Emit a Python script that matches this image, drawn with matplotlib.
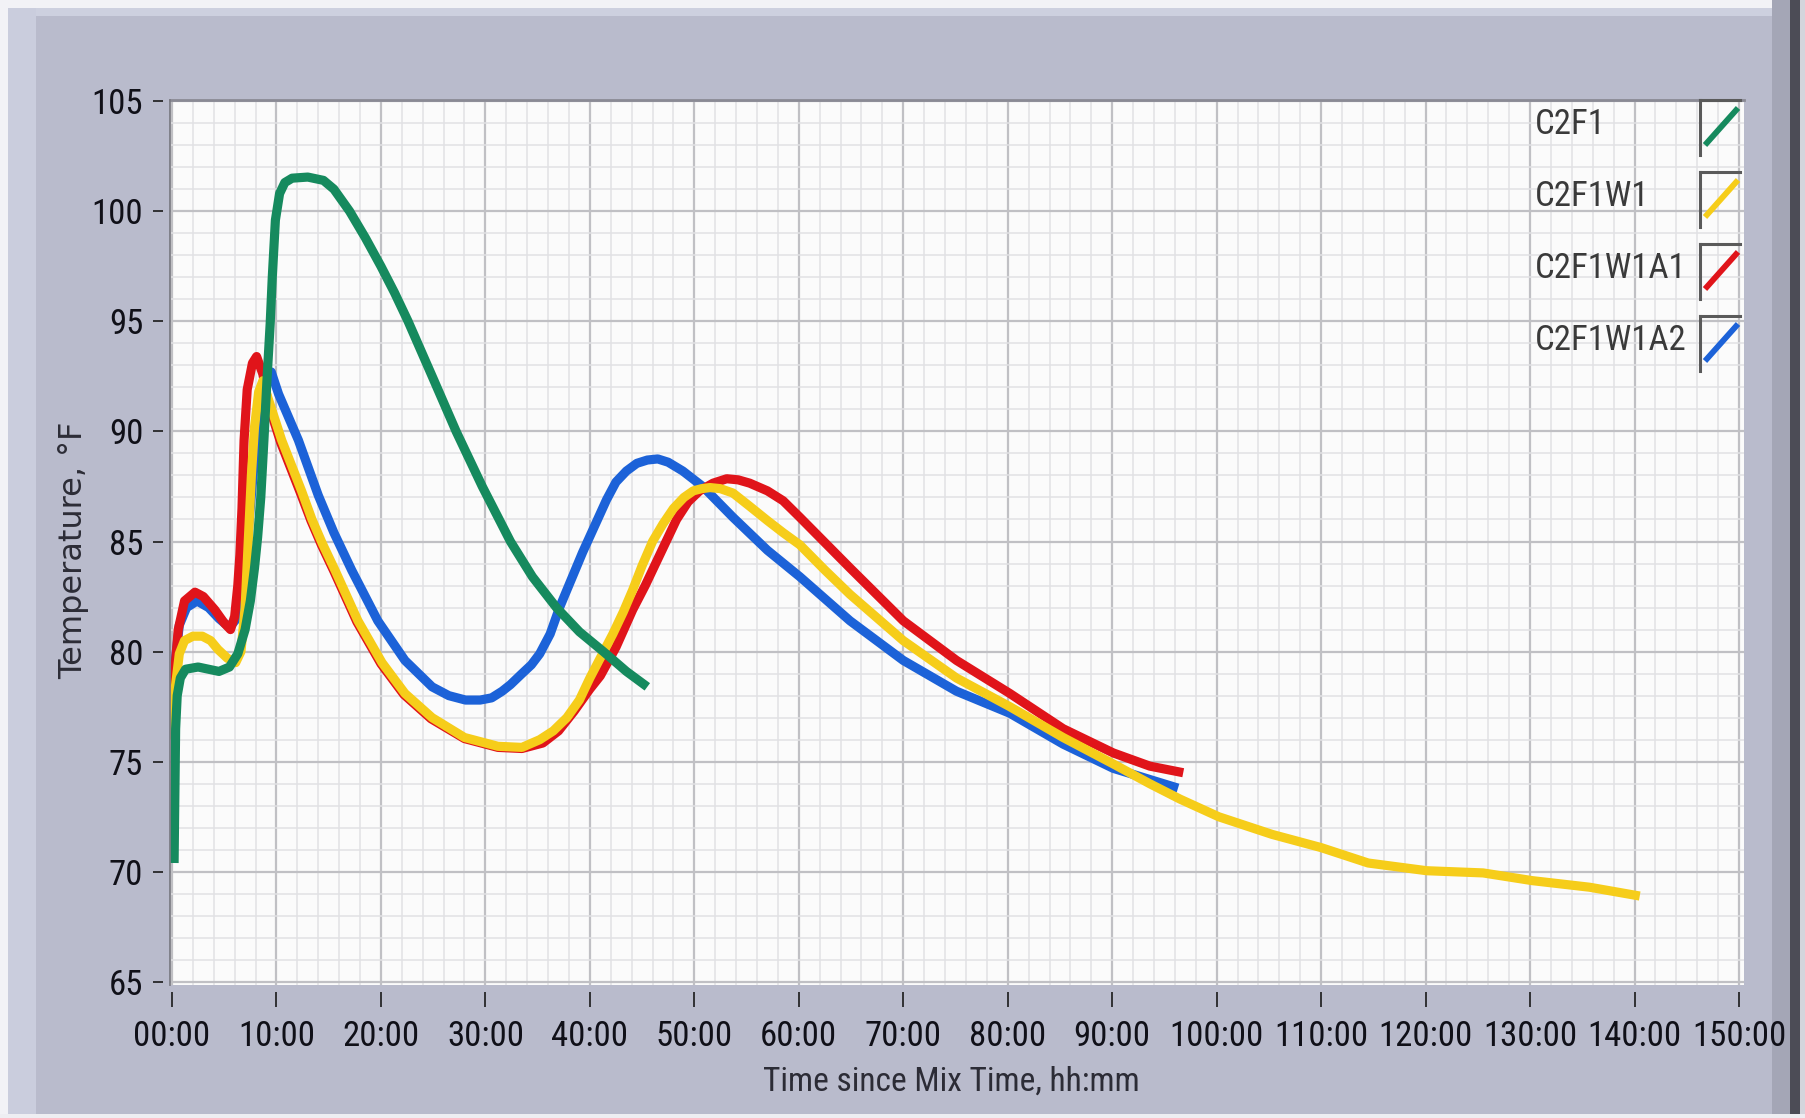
import matplotlib
matplotlib.use("Agg")
import matplotlib.pyplot as plt
from matplotlib import font_manager
from matplotlib.lines import Line2D
from matplotlib.patches import Rectangle
from matplotlib.ticker import MultipleLocator, FuncFormatter

# hours since mix time / temperature (F) for each batch
c2f1_h = [0.2, 0.25, 0.3, 0.35, 0.5, 0.8, 1.3, 2.5, 3.5, 4.5, 5.5, 6.3, 7.0, 7.5, 7.9, 8.2,
          8.5, 8.8, 9.1, 9.4, 9.6, 9.9, 10.3, 10.8, 11.5, 13.0, 14.5, 15.5, 17.0, 18.5,
          20.0, 21.3, 22.6, 23.8, 25.0, 27.2, 29.7, 32.4, 34.5, 36.8, 39.0, 41.3, 43.5,
          45.5]
c2f1_t = [70.4, 72.5, 74.5, 76.5, 78.0, 78.8, 79.2, 79.3, 79.2, 79.1, 79.3, 79.9, 81.0,
          82.3, 83.8, 85.2, 87.0, 89.6, 92.4, 94.9, 97.0, 99.6, 100.8, 101.3, 101.5,
          101.55, 101.4, 101.0, 100.0, 98.8, 97.5, 96.3, 95.0, 93.7, 92.4, 90.0, 87.5,
          85.0, 83.4, 82.0, 80.9, 80.0, 79.1, 78.4]

c2f1w1_h = [0.1, 0.3, 0.7, 1.2, 2.0, 2.9, 3.7, 4.4, 5.3, 6.1, 6.6, 7.0, 7.3, 7.6, 7.9,
            8.3, 8.7, 9.2, 10.5, 12.4, 13.4, 14.4, 15.6, 17.8, 20.1, 22.3, 24.9, 28.0,
            31.2, 33.5, 35.2, 36.5, 37.8, 39.0, 40.0, 41.1, 42.2, 43.2, 44.1, 45.0,
            46.0, 47.0, 48.0, 49.0, 49.9, 50.7, 51.5, 52.5, 53.7, 55.3, 57.0, 58.5,
            60.1, 62.5, 64.9, 70.0, 75.1, 80.2, 85.3, 90.1, 93.6, 96.5, 100.2, 105.3,
            110.0, 114.5, 120.1, 125.5, 130.2, 135.7, 140.5]
c2f1w1_t = [76.0, 78.3, 79.9, 80.5, 80.7, 80.7, 80.5, 80.1, 79.7, 79.5, 80.0, 82.0, 85.0,
            88.0, 90.2, 91.8, 92.3, 91.5, 89.6, 87.3, 86.0, 84.9, 83.7, 81.4, 79.5, 78.1,
            77.0, 76.1, 75.7, 75.65, 76.0, 76.4, 77.0, 77.8, 78.8, 79.8, 80.8, 81.8,
            82.8, 83.9, 85.0, 85.8, 86.5, 87.0, 87.3, 87.4, 87.45, 87.4, 87.2, 86.6,
            85.95, 85.4, 84.85, 83.7, 82.6, 80.5, 78.8, 77.5, 76.1, 74.9, 74.0, 73.3,
            72.5, 71.7, 71.1, 70.4, 70.05, 69.95, 69.6, 69.3, 68.9]

c2f1w1a1_h = [0.1, 0.3, 0.6, 1.2, 2.2, 3.0, 4.1, 5.0, 5.6, 6.0, 6.3, 6.5, 6.7, 6.9, 7.2,
              7.7, 8.1, 8.7, 9.2, 10.4, 12.3, 13.3, 14.3, 15.5, 17.7, 20.0, 22.2, 24.8,
              28.0, 31.2, 33.5, 35.5, 37.0, 38.5, 40.0, 41.0, 42.5, 44.1, 45.3, 46.4,
              47.4, 48.3, 49.4, 50.5, 51.8, 53.1, 54.2, 55.3, 57.0, 58.5, 60.1, 64.9,
              70.0, 75.1, 80.2, 85.3, 90.1, 93.6, 96.8]
c2f1w1a1_t = [77.0, 79.3, 81.0, 82.3, 82.7, 82.5, 81.9, 81.3, 81.0, 81.6, 83.0, 84.4,
              86.5, 89.6, 91.9, 93.1, 93.4, 92.6, 91.3, 89.5, 87.2, 85.95, 84.85, 83.65,
              81.35, 79.45, 78.05, 76.95, 76.05, 75.65, 75.6, 75.85, 76.4, 77.3, 78.3,
              78.9, 80.2, 81.9, 83.0, 84.1, 85.1, 86.0, 86.8, 87.3, 87.65, 87.85, 87.8,
              87.65, 87.3, 86.85, 86.1, 83.8, 81.4, 79.6, 78.1, 76.5, 75.4, 74.8, 74.5]

c2f1w1a2_h = [0.1, 0.3, 0.7, 1.4, 2.4, 3.5, 4.5, 5.5, 6.2, 6.8, 7.3, 7.8, 8.3, 8.8, 9.5,
              10.2, 12.1, 14.0, 15.5, 17.2, 19.7, 22.3, 24.9, 26.5, 28.1, 29.5, 30.6,
              31.6, 32.4, 33.5, 34.4, 35.2, 36.2, 37.1, 39.3, 41.6, 42.5, 43.5, 44.5,
              45.5, 46.5, 47.5, 48.9, 50.8, 53.7, 57.0, 60.1, 64.9, 70.0, 75.1, 80.2,
              85.3, 90.1, 96.3]
c2f1w1a2_t = [77.0, 79.5, 81.2, 82.0, 82.3, 82.0, 81.5, 81.1, 81.5, 83.0, 85.5, 88.2,
              90.5, 92.0, 92.7, 91.7, 89.6, 87.1, 85.4, 83.7, 81.4, 79.6, 78.4, 78.0,
              77.8, 77.8, 77.9, 78.2, 78.5, 79.0, 79.4, 79.9, 80.8, 82.0, 84.5, 86.9,
              87.7, 88.2, 88.55, 88.7, 88.75, 88.6, 88.2, 87.5, 86.1, 84.6, 83.4, 81.4,
              79.6, 78.2, 77.2, 75.8, 74.7, 73.8]

names = ["C2F1", "C2F1W1", "C2F1W1A1", "C2F1W1A2"]
colors = ["#168a5e", "#f6cd1a", "#e0141a", "#1c62d8"]

W, H = 1805, 1118


def pick_narrow():
    found = {f.name for f in font_manager.fontManager.ttflist}
    for n in ["Liberation Sans Narrow", "DejaVu Sans Condensed", "Roboto Condensed",
              "Open Sans Condensed"]:
        if n in found:
            return n
    return None


def fx(px):
    return px / W


def fy(py):
    return 1 - py / H


def rect(fig, x, y, w, h, color):
    fig.add_artist(Rectangle((fx(x), fy(y + h)), w / W, h / H, transform=fig.transFigure,
                             facecolor=color, edgecolor="none", zorder=-5))


def hhmm(x, pos):
    return "%02d:00" % int(round(x))


def main():
    narrow = pick_narrow()
    tick_font = narrow or "DejaVu Sans"
    tick_size = 25 if narrow else 19

    fig = plt.figure(figsize=(W / 100, H / 100), dpi=100, facecolor="#b9bbcc")

    # panel frame
    rect(fig, 0, 0, W, 8, "#f2f2f6")
    rect(fig, 0, 0, 8, H, "#f2f2f6")
    rect(fig, 8, 8, W - 8, 8, "#cdd0df")
    rect(fig, 8, 8, 28, H - 8, "#cacddd")
    rect(fig, 1772, 0, 18, H, "#a4a6b6")
    rect(fig, 1790, 0, 10, H, "#4c4c56")
    rect(fig, 1800, 0, 5, H, "#d4d5dc")
    rect(fig, 0, 1114, W, 4, "#eeeef2")

    ax = fig.add_axes([fx(170), fy(985), (1744 - 170) / W, (985 - 100) / H])
    ax.set_facecolor("#fbfbfb")
    ax.set_xlim(-0.19, 150.48)
    ax.set_ylim(64.86, 105.05)

    ax.xaxis.set_major_locator(MultipleLocator(10))
    ax.xaxis.set_minor_locator(MultipleLocator(2))
    ax.yaxis.set_major_locator(MultipleLocator(5))
    ax.yaxis.set_minor_locator(MultipleLocator(1))
    ax.xaxis.set_major_formatter(FuncFormatter(hhmm))
    ax.grid(which="major", color="#c0c0c4", lw=1.6)
    ax.grid(which="minor", color="#e1e1e4", lw=1.1)
    ax.set_axisbelow(True)

    for side in ["right", "bottom", "left"]:
        ax.spines[side].set_visible(False)
    ax.spines["bottom"].set_position(("outward", 5))
    ax.spines["left"].set_position(("outward", 5))
    ax.spines["top"].set_color("#8a8a94")
    ax.spines["top"].set_linewidth(2.0)
    ax.plot([0, 0], [0, 1], transform=ax.transAxes, color="#7c7c84", lw=1.3,
            clip_on=False, zorder=10)

    ax.tick_params(which="major", direction="out", width=1.2, color="#1a1a1a",
                   labelcolor="#101018", labelsize=tick_size)
    ax.tick_params(axis="x", length=11, pad=9)
    ax.tick_params(axis="y", length=7.2, pad=7)
    ax.tick_params(which="minor", length=0)
    for lab in ax.get_xticklabels() + ax.get_yticklabels():
        lab.set_fontfamily(tick_font)

    series = [(c2f1w1a2_h, c2f1w1a2_t, colors[3], 3),
              (c2f1w1a1_h, c2f1w1a1_t, colors[2], 4),
              (c2f1w1_h, c2f1w1_t, colors[1], 5),
              (c2f1_h, c2f1_t, colors[0], 6)]
    for h, t, c, z in series:
        ax.plot(h, t, color=c, lw=6.6, solid_capstyle="butt", solid_joinstyle="round",
                zorder=z)

    # legend column with sample boxes
    for i, (name, c) in enumerate(zip(names, colors)):
        top = 100 + i * 72
        fig.text(fx(1535), fy(top + 25), name, fontsize=tick_size, family=tick_font,
                 color="#3a3a3a", ha="left", va="center")
        rect(fig, 1700, top, 40, 55, "#fdfdfd")
        fig.add_artist(Line2D([fx(1700), fx(1700)], [fy(top), fy(top + 55)],
                              transform=fig.transFigure, color="#5a5a5a", lw=2.2))
        fig.add_artist(Line2D([fx(1700), fx(1740)], [fy(top), fy(top)],
                              transform=fig.transFigure, color="#5a5a5a", lw=2.2))
        fig.add_artist(Line2D([fx(1705), fx(1738)], [fy(top + 45), fy(top + 8)],
                              transform=fig.transFigure, color=c, lw=4.2,
                              solid_capstyle="butt"))

    fig.text(fx(951), fy(1082), "Time since Mix Time, hh:mm", ha="center", va="center",
             fontsize=24 if narrow else 18, family=tick_font, color="#2c2c36")
    fig.text(fx(74), fy(550), "Temperature, \u00b0F", ha="center", va="center",
             rotation=90, fontsize=23, family="DejaVu Sans", color="#2c2c36")

    fig.savefig("out.png", dpi=100, facecolor=fig.get_facecolor())


main()
